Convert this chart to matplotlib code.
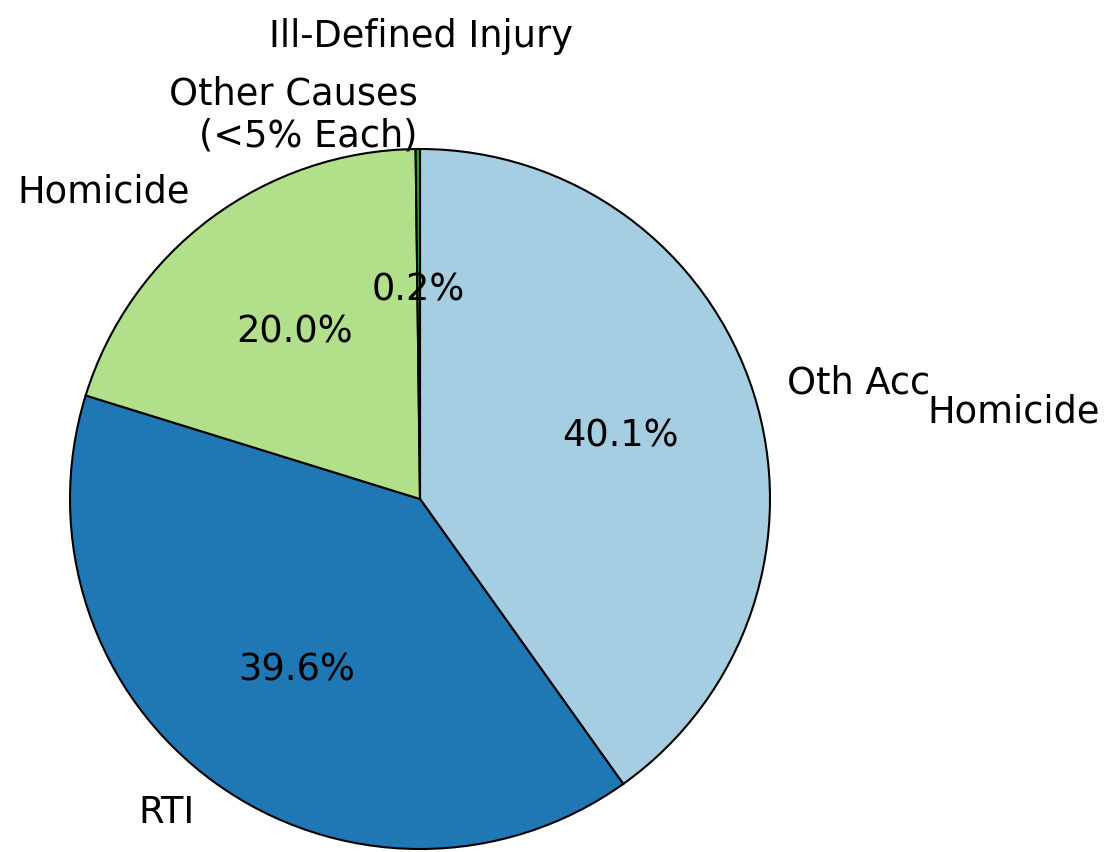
import matplotlib
matplotlib.use("Agg")
import matplotlib.pyplot as plt

# slice data (clockwise from 12 o'clock)
causes = ["Oth Acc", "RTI", "Homicide", "Other Causes\n(<5% Each)"]
shares = [40.1, 39.6, 20.0, 0.2]
colors = ["#a6cee3", "#1f78b4", "#b2df8a", "#33a02c"]

# stray labels that sit outside the pie in the original
extra_labels = ["Ill-Defined Injury", "Homicide"]

FS = 26.5

fig = plt.figure(figsize=(11.08, 8.53), dpi=100)
ax = fig.add_axes([0, 0, 1, 1])

ax.pie(shares, labels=causes, colors=colors, autopct="%1.1f%%",
       startangle=90, counterclock=False,
       wedgeprops=dict(edgecolor="black", linewidth=1.5),
       textprops=dict(fontsize=FS))

ax.text(0.003, 1.323, extra_labels[0], ha="center", va="center", fontsize=FS)
ax.text(1.449, 0.251, extra_labels[1], ha="left", va="center", fontsize=FS)

# centre at (420, 500) px, radius 350 px
ax.set_xlim(-420 / 350, (1108 - 420) / 350)
ax.set_ylim(-(853 - 500) / 350, 500 / 350)
ax.set_aspect("equal")
ax.axis("off")

fig.savefig("out.png", dpi=100)
